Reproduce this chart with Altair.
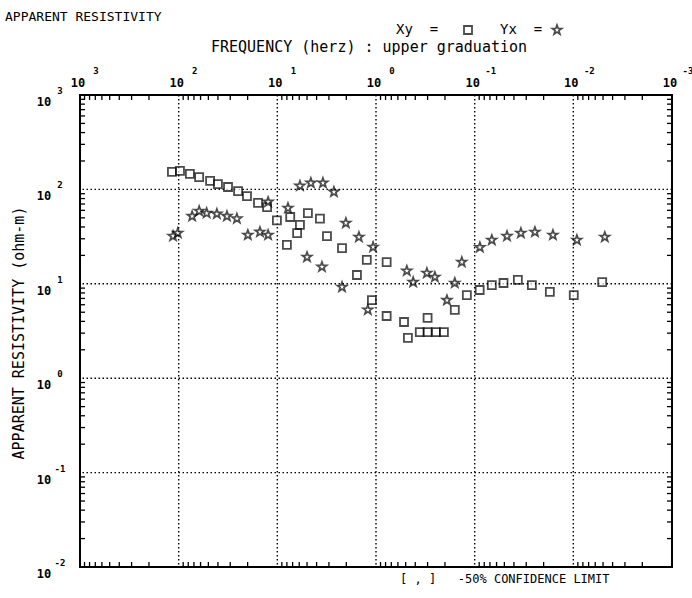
import altair as alt
import pandas as pd

# ---- data -----------------------------------------------------------------
# Xy mode (open squares): frequency in Hz, apparent resistivity in ohm-m
xy_freq = [117, 97, 77, 62, 48, 40, 31.6, 25, 20.3, 15.7,
           12.7, 10.1, 7.4, 4.9, 3.7, 5.9, 6.3, 8.0, 3.14, 2.21,
           1.24, 0.78, 1.56, 1.10, 0.78, 0.52, 0.30, 0.475, 0.36, 0.30,
           0.247, 0.205, 0.159, 0.12, 0.089, 0.067, 0.051, 0.0365, 0.0263, 0.0173,
           0.0099, 0.0051]
xy_rho = [153, 157, 146, 135, 123, 114, 106, 96, 85, 72,
          65, 47, 51, 56, 49, 42, 34.5, 25.8, 32, 23.9,
          17.9, 17.0, 12.4, 6.7, 4.56, 3.94, 4.35, 2.67, 3.08, 3.08,
          3.08, 3.08, 5.3, 7.6, 8.6, 9.7, 10.2, 11.0, 9.7, 8.2,
          7.6, 10.4]

# Yx mode (stars)
yx_freq = [114, 102, 73, 62, 52, 41, 32.4, 25.7, 19.9, 15,
           12.4, 12.4, 7.8, 5.9, 4.57, 3.45, 2.67, 2.02, 1.49, 1.07,
           5.0, 3.53, 2.21, 1.21, 0.487, 0.42, 0.305, 0.253, 0.191, 0.159,
           0.135, 0.0885, 0.067, 0.047, 0.034, 0.0245, 0.0161, 0.0092, 0.0048]
yx_rho = [32, 34.5, 52, 59, 56, 55, 52, 49, 32.9, 35.4,
          32.9, 73.6, 63.5, 109, 117, 117, 94, 44, 31.3, 24.5,
          19.2, 15.1, 9.25, 5.3, 13.7, 10.4, 13.0, 11.8, 6.7, 10.2,
          17.0, 24.3, 29.1, 32, 34.5, 35.4, 32.9, 29.1, 31.3]

# axis decades (exponents of ten)
x_exponents = [3, 2, 1, 0, -1, -2, -3]
y_exponents = [3, 2, 1, 0, -1, -2]

NB = "\u00a0"  # non-breaking space keeps the wide spacing in SVG text
title_text = ["APPARENT RESISTIVITY"]
key_xy_text = ["Xy" + NB * 2 + "="]
key_yx_text = ["Yx" + NB * 2 + "="]
x_title_text = ["FREQUENCY (herz) : upper graduation"]
y_title_text = ["APPARENT RESISTIVITY (ohm-m)"]
footer_text = ["[" + NB + "," + NB + "]" + NB * 3 + "-50%" + NB + "CONFIDENCE" + NB + "LIMIT"]

# ---- layout ---------------------------------------------------------------
W, H = 592, 472
FONT = "DejaVu Sans Mono"
INK = "black"

xscale = alt.Scale(type="log", domain=[0.001, 1000], reverse=True, nice=False)
yscale = alt.Scale(type="log", domain=[0.01, 1000], nice=False)

STAR = ("M0,-1L0.235,-0.324L0.951,-0.309L0.383,0.124L0.588,0.809"
        "L0,0.4L-0.588,0.809L-0.383,0.124L-0.951,-0.309L-0.235,-0.324Z")

pts_xy = pd.DataFrame({"f": xy_freq, "rho": xy_rho})
pts_yx = pd.DataFrame({"f": yx_freq, "rho": yx_rho})

xdec = pd.DataFrame({"v": [10.0 ** e for e in x_exponents],
                     "e": [str(e) for e in x_exponents]})
ydec = pd.DataFrame({"v": [10.0 ** e for e in y_exponents],
                     "e": [str(e) for e in y_exponents]})

# minor log ticks (2..9 within each decade)
xminor = pd.DataFrame({"v": [m * 10.0 ** d for d in range(-3, 3) for m in range(2, 10)]})
yminor = pd.DataFrame({"v": [m * 10.0 ** d for d in range(-2, 3) for m in range(2, 10)]})

X = lambda f: alt.X(f, scale=xscale, axis=None)
Y = lambda f: alt.Y(f, scale=yscale, axis=None)

# dotted decade grid
grid_x = alt.Chart(xdec).mark_rule(color=INK, strokeWidth=1.4, strokeDash=[1.5, 2.5]).encode(x=X("v:Q"))
grid_y = alt.Chart(ydec).mark_rule(color=INK, strokeWidth=1.4, strokeDash=[1.5, 2.5]).encode(y=Y("v:Q"))

# inward minor ticks on all four sides
tk = dict(color=INK, strokeWidth=1.3)
t_top = alt.Chart(xminor).mark_rule(**tk).encode(x=X("v:Q"), y=alt.value(0), y2=alt.value(5))
t_bot = alt.Chart(xminor).mark_rule(**tk).encode(x=X("v:Q"), y=alt.value(H), y2=alt.value(H - 5))
t_left = alt.Chart(yminor).mark_rule(**tk).encode(y=Y("v:Q"), x=alt.value(0), x2=alt.value(5))
t_right = alt.Chart(yminor).mark_rule(**tk).encode(y=Y("v:Q"), x=alt.value(W), x2=alt.value(W - 5))

# tick labels: "10" with a raised exponent
lab = dict(font=FONT, fontWeight="bold", color=INK)
xl_base = alt.Chart(xdec).mark_text(fontSize=12, dx=-2, **lab).encode(
    x=X("v:Q"), y=alt.value(-12), text=alt.value("10"))
xl_exp = alt.Chart(xdec).mark_text(fontSize=9, dx=16, **lab).encode(
    x=X("v:Q"), y=alt.value(-24), text="e:N")
yl_base = alt.Chart(ydec).mark_text(fontSize=12, dy=7, **lab).encode(
    y=Y("v:Q"), x=alt.value(-36), text=alt.value("10"))
yl_exp = alt.Chart(ydec).mark_text(fontSize=9, dy=-4, **lab).encode(
    y=Y("v:Q"), x=alt.value(-20), text="e:N")

# data symbols
sq_style = dict(shape="square", size=64, filled=True, fill="white", stroke=INK, strokeWidth=1.8)
st_style = dict(shape=STAR, size=100, filled=True, fill="white", stroke=INK, strokeWidth=1.7)
sq = alt.Chart(pts_xy).mark_point(**sq_style).encode(x=X("f:Q"), y=Y("rho:Q"))
st = alt.Chart(pts_yx).mark_point(**st_style).encode(x=X("f:Q"), y=Y("rho:Q"))

# headings
txt = dict(font=FONT, color=INK)


def label(texts, x, y, size, **kw):
    return alt.Chart(pd.DataFrame({"t": texts})).mark_text(fontSize=size, **txt, **kw).encode(
        x=alt.value(x), y=alt.value(y), text="t:N")


t_title = label(title_text, -75, -78, 13, align="left")
t_key1 = label(key_xy_text, 316, -65, 14, align="left")
t_key3 = label(key_yx_text, 420, -65, 14, align="left")
# key symbols, same styling as the plotted points
k_sq = alt.Chart(pd.DataFrame({"t": key_xy_text})).mark_point(**sq_style).encode(
    x=alt.value(388), y=alt.value(-65))
k_st = alt.Chart(pd.DataFrame({"t": key_yx_text})).mark_point(**st_style).encode(
    x=alt.value(477), y=alt.value(-65))
t_xtitle = label(x_title_text, 289, -48, 15, align="center")
t_ytitle = label(y_title_text, -61, 238, 15, align="center", angle=270)
t_foot = label(footer_text, 320, 484, 12, align="left")

chart = alt.layer(
    grid_x, grid_y, t_top, t_bot, t_left, t_right,
    xl_base, xl_exp, yl_base, yl_exp,
    sq, st,
    t_title, t_key1, t_key3, k_sq, k_st, t_xtitle, t_ytitle, t_foot,
).properties(
    width=W, height=H,
    padding={"left": 80, "top": 95, "right": 20, "bottom": 31},
    autosize=alt.AutoSizeParams(type="none"),
    background="white",
).configure_view(stroke=INK, strokeWidth=2)

chart.save("out.html", embed_options={"renderer": "svg", "actions": False})
